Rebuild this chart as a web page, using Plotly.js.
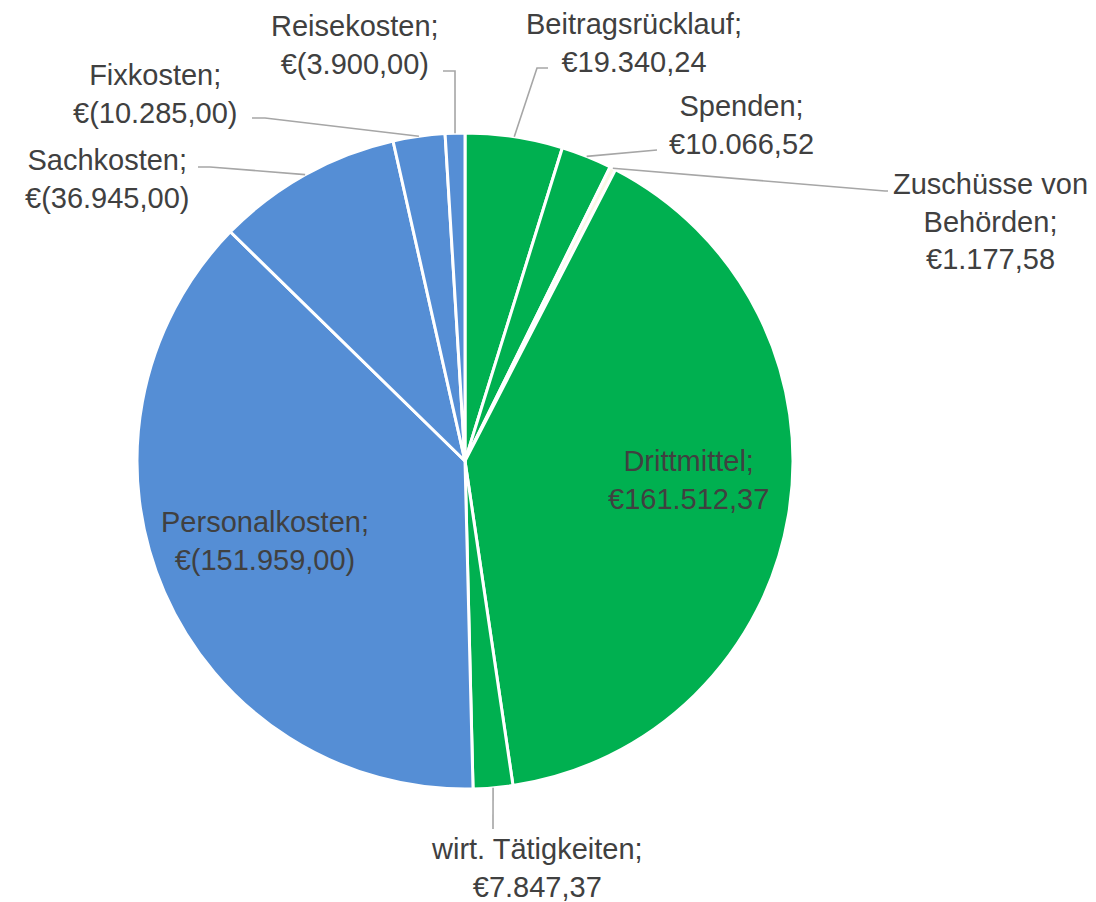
<!DOCTYPE html>
<html>
<head>
<meta charset="utf-8">
<script src="https://cdn.plot.ly/plotly-3.0.1.min.js"></script>
<style>html,body{margin:0;padding:0;background:#fff;}#chart{width:1096px;height:902px;}</style>
</head>
<body>
<div id="chart"></div>
<script>
// ---- data ----
const categories = ['Beitragsrücklauf', 'Spenden', 'Zuschüsse von Behörden', 'Drittmittel', 'wirt. Tätigkeiten',
                    'Personalkosten', 'Sachkosten', 'Fixkosten', 'Reisekosten'];
// income positive, expenses negative (shown in parentheses)
const amounts = [19340.24, 10066.52, 1177.58, 161512.37, 7847.37,
                 -151959.00, -36945.00, -10285.00, -3900.00];

// ---- style / layout ----
const W = 1096, H = 902;
const CX = 465, CY = 461, R = 328;
const sliceColors = ['#00B050', '#00B050', '#FAF7E4', '#00B050', '#00B050',
                     '#558ED5', '#558ED5', '#558ED5', '#558ED5'];
// label block centers (px) and leader-line waypoints (px) from label side
const labelPos = [
  {x: 634, y: 43,  brk: null, lead: [[548, 68], [537, 68]]},
  {x: 741, y: 125, brk: null, lead: [[657, 150]]},
  {x: 990, y: 221, brk: 'Zuschüsse von<br>Behörden', lead: [[888, 191], [885, 191]]},
  {x: 688, y: 480, brk: null, lead: null},
  {x: 537, y: 868, brk: null, lead: [[493, 829]]},
  {x: 265, y: 541, brk: null, lead: null},
  {x: 107, y: 179, brk: null, lead: [[198, 167], [210, 167]]},
  {x: 155, y: 94,  brk: null, lead: [[252, 118], [265, 118]]},
  {x: 355, y: 45,  brk: null, lead: [[443, 71], [455, 71]]}
];
const FONT = 'Liberation Sans, Arial, sans-serif';
const FSIZE = 29;
const TXT = '#404040';

function fmt(v) {
  const a = Math.abs(v).toFixed(2).split('.');
  const s = a[0].replace(/\B(?=(\d{3})+(?!\d))/g, '.') + ',' + a[1];
  return v < 0 ? '€(' + s + ')' : '€' + s;
}
const px = x => x / W, py = y => 1 - y / H;

const sizes = amounts.map(Math.abs);
const total = sizes.reduce((a, b) => a + b, 0);

const annotations = [], shapes = [];
let cum = 0;
sizes.forEach((v, i) => {
  const mid = (cum + v / 2) / total * 2 * Math.PI;
  cum += v;
  const lp = labelPos[i];
  const name = lp.brk || categories[i];
  annotations.push({
    xref: 'paper', yref: 'paper', x: px(lp.x), y: py(lp.y),
    xanchor: 'center', yanchor: 'middle', align: 'center', showarrow: false,
    text: name + ';<br>' + fmt(amounts[i]),
    font: {family: FONT, size: FSIZE, color: TXT}
  });
  if (lp.lead) {
    const ex = CX + R * Math.sin(mid), ey = CY - R * Math.cos(mid);
    let path = '';
    lp.lead.forEach((p, k) => { path += (k === 0 ? 'M' : 'L') + px(p[0]) + ',' + py(p[1]) + ' '; });
    path += 'L' + px(ex) + ',' + py(ey);
    shapes.push({type: 'path', xref: 'paper', yref: 'paper', path: path,
                 line: {color: '#A6A6A6', width: 1.6}});
  }
});

const trace = {
  type: 'pie',
  labels: categories,
  values: sizes,
  sort: false,
  direction: 'clockwise',
  rotation: 0,
  textinfo: 'none',
  hoverinfo: 'label+value',
  marker: {colors: sliceColors, line: {color: '#FFFFFF', width: 3}},
  domain: {x: [(CX - R) / W, (CX + R) / W], y: [1 - (CY + R) / H, 1 - (CY - R) / H]}
};

Plotly.newPlot('chart', [trace], {
  width: W, height: H,
  margin: {l: 0, r: 0, t: 0, b: 0},
  paper_bgcolor: '#FFFFFF',
  showlegend: false,
  annotations: annotations,
  shapes: shapes
}, {displayModeBar: false, staticPlot: true});
</script>
</body>
</html>
